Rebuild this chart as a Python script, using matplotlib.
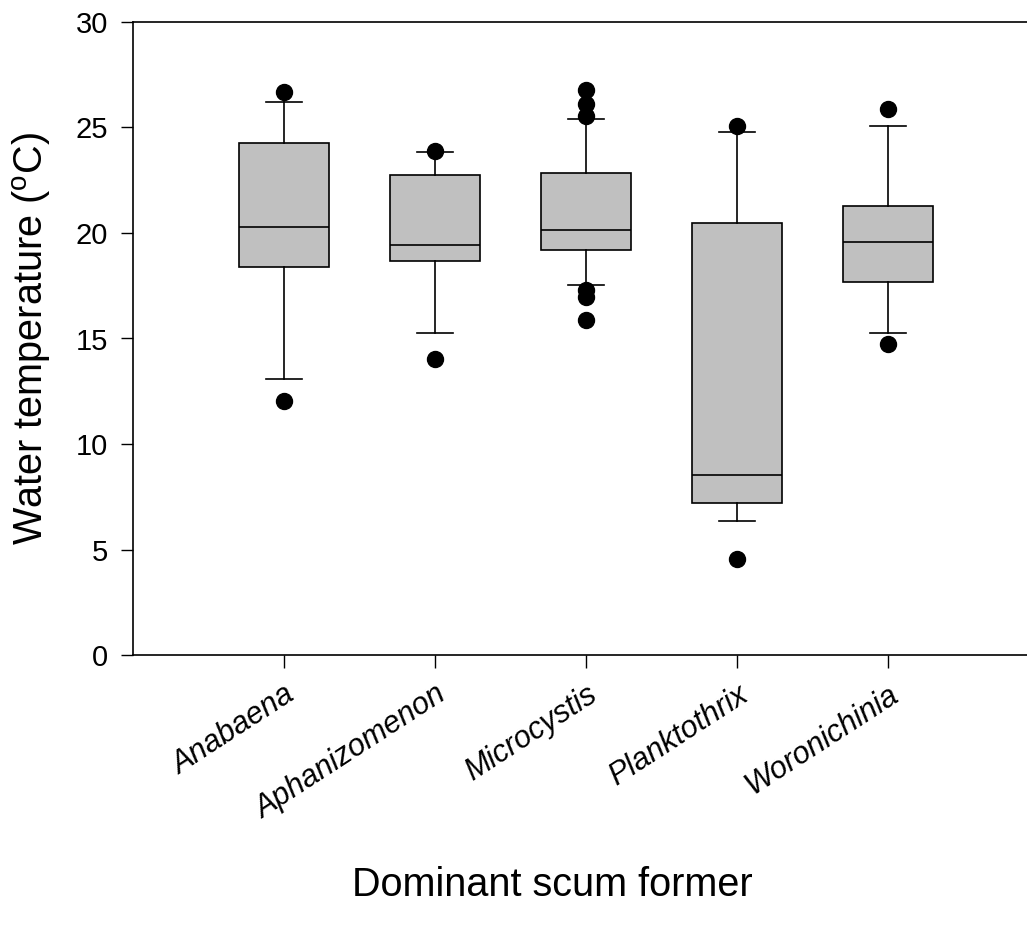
import matplotlib
matplotlib.use("Agg")
import matplotlib.pyplot as plt

plt.rcParams['font.family'] = ['Liberation Sans', 'DejaVu Sans']
plt.rcParams['mathtext.fontset'] = 'custom'
plt.rcParams['mathtext.rm'] = 'Liberation Sans'

categories = ["Anabaena", "Aphanizomenon", "Microcystis", "Planktothrix", "Woronichinia"]
q1 = [18.39, 18.67, 19.19, 7.20, 17.68]
medians = [20.28, 19.43, 20.14, 8.53, 19.57]
q3 = [24.27, 22.75, 22.84, 20.47, 21.28]
whislo = [13.08, 15.26, 17.54, 6.35, 15.26]
whishi = [26.20, 23.84, 25.40, 24.79, 25.07]
fliers = [
    [26.68, 12.04],
    [23.90, 14.03],
    [26.80, 26.10, 25.55, 17.30, 16.97, 15.88],
    [25.07, 4.55],
    [25.88, 14.74],
]

W, H, DPI = 1027, 930, 100
fig = plt.figure(figsize=(W / DPI, H / DPI), dpi=DPI)
ax = fig.add_axes([133 / W, 1 - 655 / H, (1039 - 133) / W, (655 - 22) / H])

stats = []
for i in range(len(categories)):
    stats.append(dict(med=medians[i], q1=q1[i], q3=q3[i], whislo=whislo[i],
                      whishi=whishi[i], fliers=fliers[i], label=categories[i]))

positions = list(range(1, len(categories) + 1))
ax.bxp(stats, positions=positions, widths=0.6, patch_artist=True,
       boxprops=dict(facecolor='#c0c0c0', edgecolor='black', linewidth=1.2),
       medianprops=dict(color='black', linewidth=1.2),
       whiskerprops=dict(color='black', linewidth=1.2),
       capprops=dict(color='black', linewidth=1.2),
       capwidths=0.245,
       flierprops=dict(marker='o', markerfacecolor='black', markeredgecolor='black',
                       markersize=11.5, linestyle='none'))

ax.set_xlim(0, 6)
ax.set_ylim(0, 30)
ax.set_yticks([0, 5, 10, 15, 20, 25, 30])
ax.set_xticks(positions)
ax.set_xticklabels(categories, rotation=33, ha='right', rotation_mode='anchor',
                   fontstyle='italic', fontsize=22)
ax.tick_params(axis='y', labelsize=21, direction='out', length=9, width=1, pad=9)
ax.tick_params(axis='x', direction='out', length=9, width=1, pad=9)
ax.spines['right'].set_visible(False)
for s in ['left', 'bottom', 'top']:
    ax.spines[s].set_linewidth(1.2)

ax.set_ylabel('Water temperature ($^{\\rm o}$C)', fontsize=28.5)
ax.yaxis.set_label_coords(-(133 - 32) / 906, 0.5)
ax.yaxis.label.set_va('center')
fig.text(552 / W, 1 - 885 / H, 'Dominant scum former', fontsize=28.5,
         ha='center', va='center')

fig.savefig('out.png', dpi=DPI)
